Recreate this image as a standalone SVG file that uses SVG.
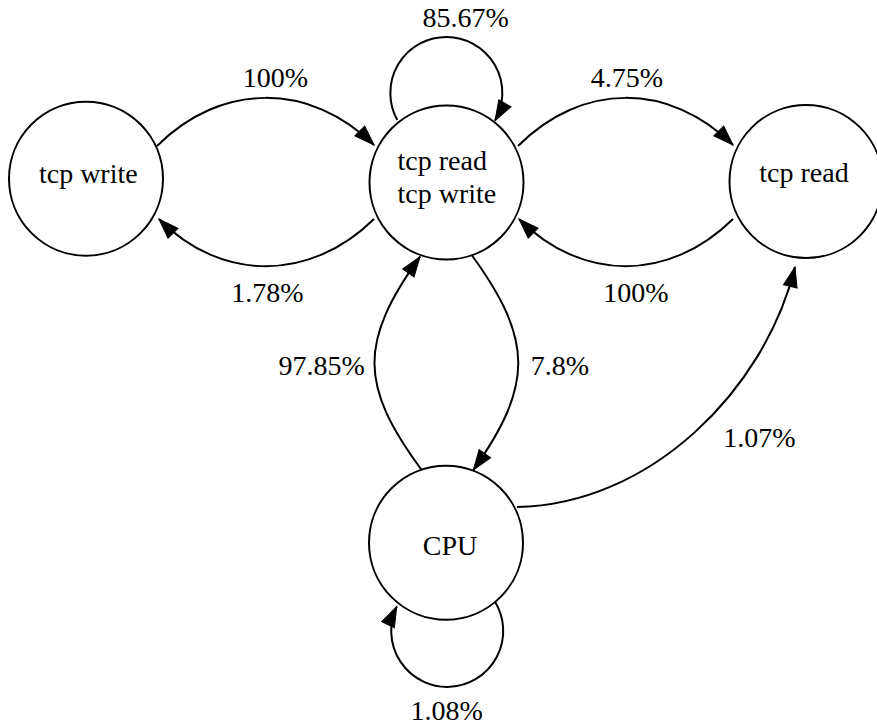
<svg xmlns="http://www.w3.org/2000/svg" width="877" height="728" viewBox="0 0 877 728">
<style>
.node{fill:#fff;stroke:#000;stroke-width:2}
.edge{fill:none;stroke:#000;stroke-width:2}
.t{font-family:'Liberation Serif','Times New Roman',serif;font-size:28px;fill:#000}
.c{text-anchor:middle}
</style>
<defs>
<marker id="arr" markerUnits="userSpaceOnUse" markerWidth="24" markerHeight="18" refX="20" refY="7" orient="auto" overflow="visible">
<path d="M0,0 L20,7 L0,14 Z" fill="#000" stroke="#000" stroke-width="1"/>
</marker>
</defs>
<rect width="877" height="728" fill="#fff"/>
<g id="connectors">
<path class="edge" marker-end="url(#arr)" d="M157,146 C221,82 310,82 374,145"/>
<path class="edge" marker-end="url(#arr)" d="M374,219 C310,282 221,282 159,219"/>
<path class="edge" marker-end="url(#arr)" d="M518,146 C582,82 669,82 733,145"/>
<path class="edge" marker-end="url(#arr)" d="M733,219 C669,282 582,282 519,219"/>
<path class="edge" marker-end="url(#arr)" d="M421.7,470 C359,385 359,342 420,256.7"/>
<path class="edge" marker-end="url(#arr)" d="M471.7,255 C533.5,340 533.5,385 473.3,470"/>
<path class="edge" marker-end="url(#arr)" d="M517,507 C650,505 765,390 795,267"/>
<path class="edge" marker-end="url(#arr)" d="M397.3,120 A56,56 0 1 1 495,120.7"/>
<path class="edge" marker-end="url(#arr)" d="M495,601.7 A56,56 0 1 1 396.7,606.7"/>
<text class="t c" x="465.7" y="26.7">85.67%</text>
<text class="t c" x="275.5" y="86.7">100%</text>
<text class="t c" x="267.5" y="301.7">1.78%</text>
<text class="t c" x="627" y="86.7">4.75%</text>
<text class="t c" x="636" y="301.7">100%</text>
<text class="t c" x="321.7" y="375">97.85%</text>
<text class="t c" x="560" y="375">7.8%</text>
<text class="t c" x="759.5" y="446.7">1.07%</text>
<text class="t c" x="446.7" y="720">1.08%</text>
</g>
<g id="node-tcpwrite">
<circle class="node" cx="86" cy="178.7" r="77"/>
<text class="t c" x="88.3" y="182.7">tcp write</text>
</g>
<g id="node-tcpreadwrite">
<circle class="node" cx="446.5" cy="182.5" r="77"/>
<text class="t" x="397.5" y="170">tcp read</text>
<text class="t" x="397.5" y="203">tcp write</text>
</g>
<g id="node-tcpread">
<circle class="node" cx="806" cy="181.5" r="76.5"/>
<text class="t" x="759.3" y="181.7">tcp read</text>
</g>
<g id="node-cpu">
<circle class="node" cx="446" cy="542.7" r="77"/>
<text class="t c" x="450" y="555">CPU</text>
</g>
</svg>
